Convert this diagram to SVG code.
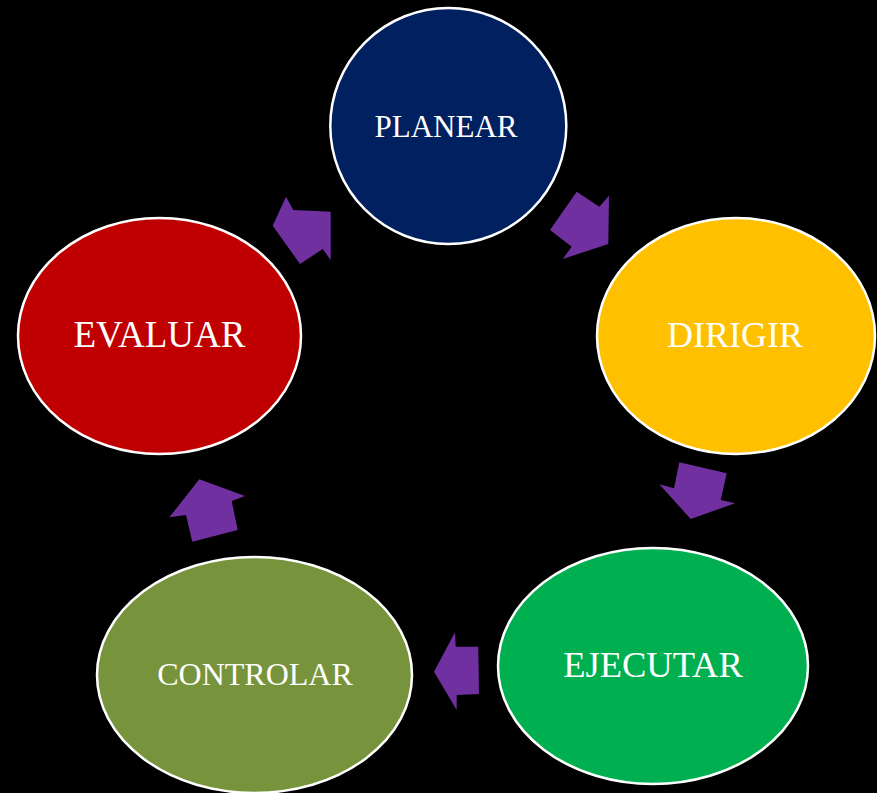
<svg xmlns="http://www.w3.org/2000/svg" width="877" height="793" viewBox="0 0 877 793">
<style>
.node{stroke:#FFFFFF;stroke-width:2.5}
.lbl{font-family:"Liberation Serif","Times New Roman",serif;fill:#FFFFFF;text-anchor:middle}
.arr{fill:#7030A0}
</style>
<rect width="877" height="793" fill="#000000"/>
<g id="connectors">
<polygon class="arr" points="576.7,191.7 599.3,206.7 609,195.7 608.3,244 562.7,259 571.7,246.7 550,230"/>
<polygon class="arr" points="679.3,462.3 726.7,473.3 720.7,500 735,503.3 690.7,519 659.3,484.3 674,488.3"/>
<polygon class="arr" points="455,632.3 455.7,646.7 478.3,646.7 479,694 456.7,695 456.7,710 434,671.7"/>
<polygon class="arr" points="199.3,479.3 245,496 231.7,501 237.7,530 192.3,541.7 186,515 169.3,517.3"/>
<polygon class="arr" points="286,196.7 293.3,210 330.7,211.7 330.7,260 322.7,249 300,264 272.7,225.7"/>
</g>
<g id="planear">
<ellipse class="node" cx="448.3" cy="126" rx="118" ry="118" fill="#002060"/>
<text class="lbl" x="446" y="136.7" font-size="31">PLANEAR</text>
</g>
<g id="dirigir">
<ellipse class="node" cx="736" cy="336" rx="139" ry="118" fill="#FFC000"/>
<text class="lbl" x="735" y="346.7" font-size="36">DIRIGIR</text>
</g>
<g id="ejecutar">
<ellipse class="node" cx="653" cy="666" rx="155" ry="118" fill="#00B050"/>
<text class="lbl" x="653" y="676.7" font-size="36.5">EJECUTAR</text>
</g>
<g id="controlar">
<ellipse class="node" cx="254.5" cy="675" rx="157.5" ry="118" fill="#77933C"/>
<text class="lbl" x="255" y="685" font-size="32">CONTROLAR</text>
</g>
<g id="evaluar">
<ellipse class="node" cx="159.5" cy="336" rx="141.5" ry="118" fill="#C00000"/>
<text class="lbl" x="159.5" y="346.7" font-size="37">EVALUAR</text>
</g>
</svg>
